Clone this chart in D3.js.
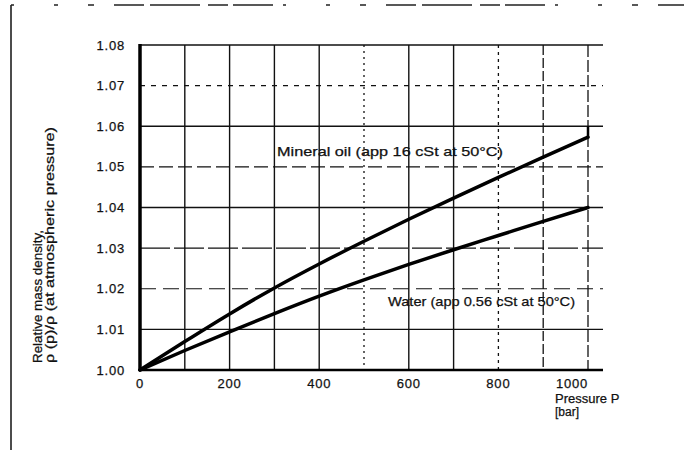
<!DOCTYPE html>
<html>
<head>
<meta charset="utf-8">
<script src="https://cdn.jsdelivr.net/npm/d3@7"></script>
<style>
  body { margin: 0; background: #fff; }
  svg text { font-family: "Liberation Sans", Arial, sans-serif; fill: #111; stroke: #111; stroke-width: 0.25; }
</style>
</head>
<body>
<figure id="density" style="margin:0"></figure>
<script>
// pressure in bar
const pressure = [0, 100, 200, 300, 400, 500, 600, 700, 800, 900, 1000];
// relative mass density rho(p)/rho(atm)
const mineralOil = [1.000, 1.0070, 1.0138, 1.0202, 1.0261, 1.0317, 1.0371, 1.0423, 1.0474, 1.0524, 1.0573];
const water = [1.000, 1.0048, 1.0094, 1.0139, 1.0182, 1.0222, 1.0260, 1.0296, 1.0331, 1.0366, 1.0400];

const xTicks = [0, 200, 400, 600, 800, 1000];
const yTicks = [1.00, 1.01, 1.02, 1.03, 1.04, 1.05, 1.06, 1.07, 1.08];
const xGrid = [100, 200, 300, 400, 500, 600, 700, 800, 900, 1000];
const yGrid = [1.01, 1.02, 1.03, 1.04, 1.05, 1.06, 1.07, 1.08];

const oilLabel = 'Mineral oil (app 16 cSt at 50°C)';
const waterLabel = 'Water (app 0.56 cSt at 50°C)';

// dash look of the scanned grid
const vDash = { 500: '2,4', 800: '3,4', 900: '10,3', 1000: '12,3' };
const hDash = { 1.07: '5,6', 1.05: '14,5', 1.02: '16,7', 1.03: '30,4' };

const width = 684, height = 450;

const svg = d3.select('figure#density')
    .append('svg')
    .attr('width', width)
    .attr('height', height);

const x = d3.scaleLinear().domain([0, 1000]).range([140, 588]);
const y = d3.scaleLinear().domain([1.00, 1.08]).range([370, 45]);
const xEnd = x(1000) + 15;

// outer frame of the scan
svg.append('line')
    .attr('x1', 11).attr('x2', 11).attr('y1', 5).attr('y2', height)
    .attr('stroke', '#111').attr('stroke-width', 1.5);
svg.append('line')
    .attr('x1', 11).attr('x2', width).attr('y1', 5).attr('y2', 5)
    .attr('stroke', '#222').attr('stroke-width', 1.3)
    .attr('stroke-dasharray', '3,40,4,30,6,20,30,6,50,8,20,5,40,10');

// grid
svg.append('g')
    .selectAll('line')
    .data(xGrid)
    .enter()
    .append('line')
    .attr('x1', d => x(d)).attr('x2', d => x(d))
    .attr('y1', y(1.08)).attr('y2', y(1.00))
    .attr('stroke', '#111')
    .attr('stroke-width', d => vDash[d] ? 1.3 : 1.4)
    .attr('stroke-dasharray', d => vDash[d] || null);

svg.append('g')
    .selectAll('line')
    .data(yGrid)
    .enter()
    .append('line')
    .attr('x1', x(0)).attr('x2', xEnd)
    .attr('y1', d => y(d)).attr('y2', d => y(d))
    .attr('stroke', '#111')
    .attr('stroke-width', d => hDash[d] ? 1.2 : 1.4)
    .attr('stroke-dasharray', d => hDash[d] || null);

// main axes lines
svg.append('line')
    .attr('x1', x(0)).attr('x2', x(0)).attr('y1', y(1.08) - 1).attr('y2', y(1.00) + 1)
    .attr('stroke', '#000').attr('stroke-width', 3.5);
svg.append('line')
    .attr('x1', x(0)).attr('x2', xEnd).attr('y1', y(1.00)).attr('y2', y(1.00))
    .attr('stroke', '#000').attr('stroke-width', 2.5);

// tick labels
svg.append('g')
    .selectAll('text')
    .data(yTicks)
    .enter()
    .append('text')
    .attr('x', 125)
    .attr('y', d => y(d))
    .attr('dy', '0.35em')
    .attr('text-anchor', 'end')
    .attr('font-size', 13)
    .attr('letter-spacing', 0.8)
    .text(d => d.toFixed(2));

svg.append('g')
    .selectAll('text')
    .data(xTicks)
    .enter()
    .append('text')
    .attr('x', d => x(d) + (d === 1000 ? -16 : 0))
    .attr('y', 388)
    .attr('text-anchor', 'middle')
    .attr('font-size', 13)
    .attr('letter-spacing', 0.8)
    .text(d => d);

// axis titles
svg.append('text')
    .attr('x', 555).attr('y', 403)
    .attr('font-size', 13)
    .text('Pressure P');
svg.append('text')
    .attr('x', 555).attr('y', 416)
    .attr('font-size', 12)
    .text('[bar]');

const yTitle = ['Relative mass density,', 'ρ (p)/ρ (at atmospheric pressure)'];
svg.append('g')
    .selectAll('text')
    .data(yTitle)
    .enter()
    .append('text')
    .attr('transform', (d, i) => 'translate(' + (42 + i * 12) + ',363) rotate(-90)')
    .attr('font-size', 12.5)
    .attr('textLength', (d, i) => i === 0 ? 133 : 236)
    .attr('lengthAdjust', 'spacingAndGlyphs')
    .text(d => d);

// curves
const line = d3.line()
    .x(d => x(d[0]))
    .y(d => y(d[1]))
    .curve(d3.curveMonotoneX);

[mineralOil, water].forEach(series => {
    svg.append('path')
        .datum(pressure.map((p, i) => [p, series[i]]))
        .attr('d', line)
        .attr('fill', 'none')
        .attr('stroke', '#000')
        .attr('stroke-width', 3.5)
        .attr('stroke-linecap', 'round');
});

// little vertical tick at the end of the oil curve (as in the scan)
svg.append('line')
    .attr('x1', x(1000)).attr('x2', x(1000))
    .attr('y1', y(1.06)).attr('y2', y(mineralOil[mineralOil.length - 1]))
    .attr('stroke', '#000').attr('stroke-width', 2.5);

// curve labels
svg.append('text')
    .attr('x', 277).attr('y', 156)
    .attr('font-size', 13)
    .attr('textLength', 226)
    .attr('lengthAdjust', 'spacingAndGlyphs')
    .text(oilLabel);
svg.append('text')
    .attr('x', 388).attr('y', 306)
    .attr('font-size', 13)
    .attr('textLength', 187)
    .attr('lengthAdjust', 'spacingAndGlyphs')
    .text(waterLabel);
</script>
</body>
</html>
